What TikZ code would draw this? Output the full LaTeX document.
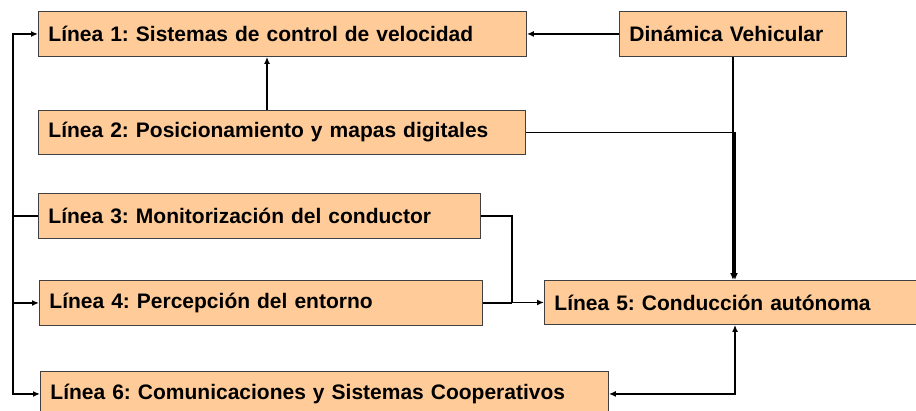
\documentclass[tikz,border=0pt]{standalone}
\usepackage{fontspec}
\setmainfont{Liberation Sans}
\usetikzlibrary{positioning, arrows.meta}
\definecolor{LineaFill}{HTML}{FFCC99}
\definecolor{LineaDraw}{HTML}{404040}

\begin{document}
\frenchspacing
\begin{tikzpicture}[x = 1pt, y = -1pt]%
    %
    \tikzstyle{arrow} = [-{Latex[length = 7pt, width = 6pt]}, draw = black, line width = 1.7pt]%
    \tikzstyle{link} = [draw = black, line width = 1.7pt]%
    \tikzstyle{linea} = [rectangle, draw = LineaDraw, line width = 0.9pt, fill = LineaFill, anchor = north west, align = left, inner xsep = 10pt, inner ysep = 0pt, minimum height = 45pt, font = \fontsize{21}{25}\selectfont\bfseries]%
    %
    \useasboundingbox (0,0) rectangle (916,410);%
    \clip (0,0) rectangle (916,410);%
    %
    \node [linea, text width = 468pt] at (38,11) (l1) {Línea 1: Sistemas de control de velocidad};%
    \node [linea, text width = 207pt] at (619,11) (dyn) {Dinámica Vehicular};%
    \node [linea, text width = 467pt, minimum height = 44pt] at (38,110) (l2) {Línea 2: Posicionamiento y mapas digitales};%
    \node [linea, text width = 422pt] at (38,193) (l3) {Línea 3: Monitorización del conductor};%
    \node [linea, text width = 423pt] at (39,280) (l4) {Línea 4: Percepción del entorno};%
    \node [linea, text width = 360pt, minimum height = 44pt] at (544,280) (l5) {Línea 5: Conducción autónoma};%
    \node [linea, text width = 548pt] at (40,371) (l6) {Línea 6: Comunicaciones y Sistemas Cooperativos};%
    %
    \coordinate (bus) at (13,0);%
    \coordinate (up) at (267,0);%
    \coordinate (mrg) at (512,0);%
    \coordinate (drop) at (735,0);%
    %
    \path [arrow] (dyn) -- (l1);%
    \path [arrow] (l2.north -| up) -- (l1.south -| up);%
    \path [arrow] (dyn.south) -- (l5.north -| dyn.south);%
    \path [arrow] (l2.east) -| (l5.north -| drop);%
    %
    \path [link] (l3.east) -| (l5.west -| mrg);%
    \path [link] (l4.east) -- (l4.east -| mrg);%
    \path [arrow] (l5.west -| mrg) -- (l5.west);%
    %
    \path [link] (l3.west) -- (l3.west -| bus);%
    \path [arrow] (l3.west -| bus) |- (l1.west);%
    \path [arrow] (l3.west -| bus) |- (l4.west);%
    \path [arrow] (l4.west -| bus) |- (l6.west);%
    %
    \path [arrow, {Latex[length = 7pt, width = 6pt]}-{Latex[length = 7pt, width = 6pt]}] (l5.south -| drop) |- (l6.east);%
    %
\end{tikzpicture}
\end{document}
